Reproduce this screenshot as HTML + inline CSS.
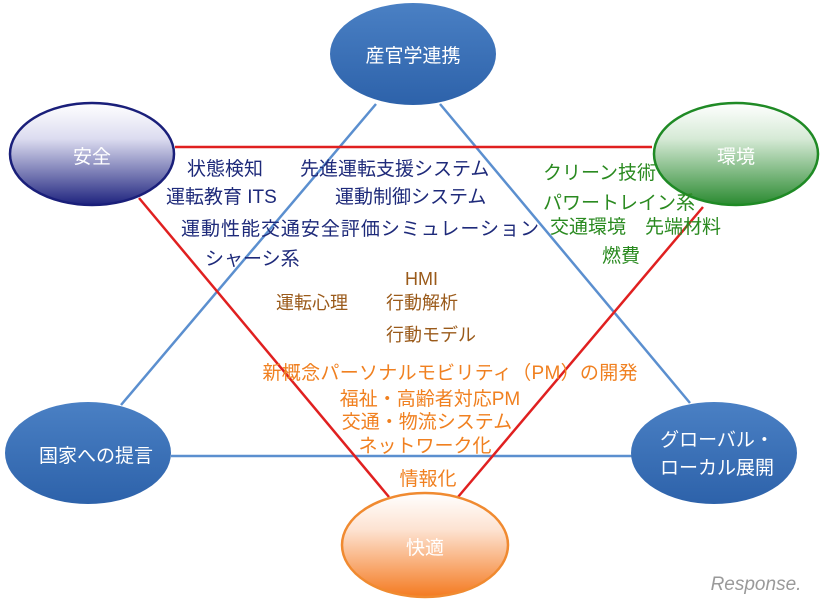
<!DOCTYPE html>
<html><head><meta charset="utf-8"><style>
html,body{margin:0;padding:0;background:#fff;width:826px;height:605px;overflow:hidden}
svg text{font-family:"Liberation Sans","Noto Sans CJK JP",sans-serif}
</style></head><body>
<svg width="826" height="605" viewBox="0 0 826 605" xmlns="http://www.w3.org/2000/svg">
<defs>
<linearGradient id="gb" x1="0" y1="0" x2="0" y2="1"><stop offset="0" stop-color="#4a80c4"/><stop offset="1" stop-color="#2d62aa"/></linearGradient>
<linearGradient id="gn" x1="0" y1="0" x2="0" y2="1"><stop offset="0" stop-color="#ffffff"/><stop offset="0.35" stop-color="#dcdcf0"/><stop offset="1" stop-color="#1e237e"/></linearGradient>
<linearGradient id="gg" x1="0" y1="0" x2="0" y2="1"><stop offset="0" stop-color="#ffffff"/><stop offset="0.35" stop-color="#d6ead6"/><stop offset="1" stop-color="#2a8a30"/></linearGradient>
<linearGradient id="go" x1="0" y1="0" x2="0" y2="1"><stop offset="0" stop-color="#ffffff"/><stop offset="0.35" stop-color="#fde3d2"/><stop offset="1" stop-color="#f47a20"/></linearGradient>
</defs>
<!-- blue triangle -->
<line x1="376" y1="104" x2="121" y2="405" stroke="#5b8fcf" stroke-width="2.5"/>
<line x1="440" y1="104" x2="690" y2="403" stroke="#5b8fcf" stroke-width="2.5"/>
<line x1="171" y1="456" x2="632" y2="456" stroke="#5b8fcf" stroke-width="2.5"/>
<!-- red triangle -->
<line x1="175" y1="147" x2="652" y2="147" stroke="#e02020" stroke-width="2.5"/>
<line x1="139" y1="198" x2="389" y2="497" stroke="#e02020" stroke-width="2.5"/>
<line x1="703" y1="207" x2="458" y2="497" stroke="#e02020" stroke-width="2.5"/>
<!-- circles -->
<ellipse cx="413" cy="54" rx="83" ry="51" fill="url(#gb)"/>
<ellipse cx="92" cy="154" rx="82" ry="51" fill="url(#gn)" stroke="#1a1f7a" stroke-width="2.5"/>
<ellipse cx="736" cy="154" rx="82" ry="51" fill="url(#gg)" stroke="#1f8a25" stroke-width="2.5"/>
<ellipse cx="88" cy="453" rx="83" ry="51" fill="url(#gb)"/>
<ellipse cx="714" cy="453" rx="83" ry="51" fill="url(#gb)"/>
<ellipse cx="425" cy="545" rx="83" ry="52" fill="url(#go)" stroke="#f08a30" stroke-width="2.5"/>
<g fill="#fff" font-size="19" text-anchor="middle">
<text x="413" y="62">産官学連携</text>
<text x="92" y="163">安全</text>
<text x="736" y="163">環境</text>
<text x="96" y="462">国家への提言</text>
<text x="717" y="446">グローバル・</text>
<text x="717" y="474">ローカル展開</text>
<text x="425" y="554">快適</text>
</g>
<g fill="#1e2a7a" font-size="19">
<text x="187" y="175">状態検知</text>
<text x="300" y="175">先進運転支援システム</text>
<text x="166" y="203">運転教育 ITS</text>
<text x="335" y="203">運動制御システム</text>
<text x="181" y="235" textLength="358">運動性能交通安全評価シミュレーション</text>
<text x="205" y="265">シャーシ系</text>
</g>
<g fill="#2a8a20" font-size="19">
<text x="543" y="179">クリーン技術</text>
<text x="543" y="209">パワートレイン系</text>
<text x="550" y="233">交通環境　先端材料</text>
<text x="602" y="262">燃費</text>
</g>
<g fill="#9a5a1a" font-size="18">
<text x="405" y="285">HMI</text>
<text x="276" y="309">運転心理</text>
<text x="386" y="309">行動解析</text>
<text x="386" y="341">行動モデル</text>
</g>
<g fill="#f08020" font-size="19" text-anchor="middle">
<text x="450" y="379" textLength="375">新概念パーソナルモビリティ（PM）の開発</text>
<text x="430" y="405">福祉・高齢者対応PM</text>
<text x="427" y="428">交通・物流システム</text>
<text x="425" y="452">ネットワーク化</text>
<text x="428" y="485">情報化</text>
</g>
<text x="756" y="590" fill="#9a9a9a" font-size="19" text-anchor="middle" font-style="italic">Response.</text>
</svg>
</body></html>
